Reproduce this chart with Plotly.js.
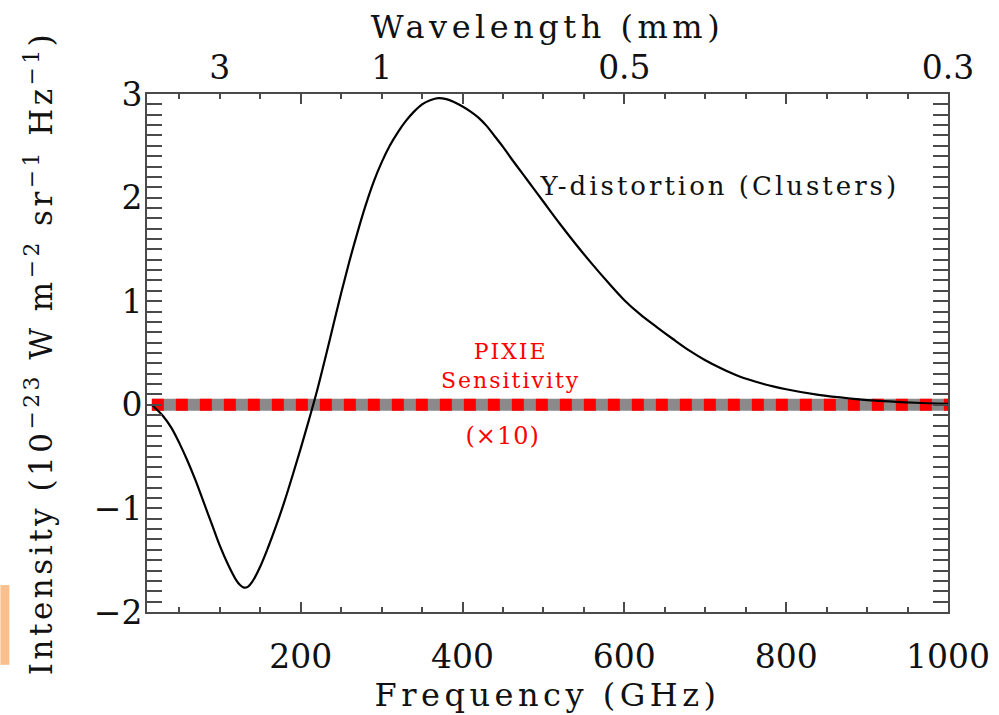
<!DOCTYPE html>
<html>
<head>
<meta charset="utf-8">
<script src="https://cdn.plot.ly/plotly-3.0.1.min.js"></script>
<style>
  html, body { margin: 0; padding: 0; background: #fff; }
  #chart { width: 999px; height: 715px; }
  .xtitle, .x2title { letter-spacing: 4.5px; }
  .ytitle { letter-spacing: 3.5px; }
  g.annotation[data-index="0"] text { letter-spacing: 3px; }
  g.annotation[data-index="1"] text { letter-spacing: 2px; }
  g.annotation[data-index="2"] text { letter-spacing: 1px; }
</style>
</head>
<body>
<div id="chart"></div>
<script>
// Y-distortion curve (frequency in GHz, intensity in 1e-23 W m^-2 sr^-1 Hz^-1)
const freqGHz = [16, 20, 30, 40, 50, 60, 70, 80, 90, 100, 110, 120, 125, 130, 135, 140, 150, 160, 170, 180, 190,
  200, 210, 220, 230, 240, 250, 260, 270, 280, 290, 300, 310, 320, 330, 340, 350, 360, 370, 380, 390,
  400, 410, 420, 430, 440, 450, 460, 480, 500, 520, 540, 560, 580, 600, 620, 640, 660, 680, 700, 720, 740, 770,
  800, 840, 880, 920, 960, 1000];
const yDistortion = [0, -0.03, -0.11, -0.22, -0.37, -0.54, -0.73, -0.94, -1.15, -1.36, -1.54, -1.69, -1.74, -1.765, -1.755, -1.71, -1.56, -1.37, -1.16, -0.93, -0.68,
  -0.42, -0.15, 0.13, 0.44, 0.76, 1.08, 1.38, 1.66, 1.92, 2.15, 2.34, 2.50, 2.63, 2.74, 2.83, 2.90, 2.94, 2.96, 2.95, 2.92,
  2.88, 2.83, 2.77, 2.69, 2.59, 2.49, 2.38, 2.17, 1.96, 1.75, 1.55, 1.36, 1.18, 1.01, 0.87, 0.75, 0.635, 0.525, 0.43, 0.35, 0.28, 0.205,
  0.15, 0.095, 0.06, 0.035, 0.02, 0.01];

// PIXIE sensitivity (x10) line
const pixieFreq = [16, 1000];
const pixieValue = [0, 0];

// Axis ticks
const freqTicks = [200, 400, 600, 800, 1000];
const intensityTicks = [-2, -1, 0, 1, 2, 3];
const wavelengthTickFreq = [100, 300, 600, 1000];
const wavelengthTickText = ['3', '1', '0.5', '0.3'];

const FONT = 'DejaVu Serif';
const AX = '#4a4a4a';

const traces = [
  {
    x: pixieFreq, y: pixieValue,
    mode: 'lines', line: { color: '#8a8a8a', width: 12 },
    hoverinfo: 'skip', showlegend: false
  },
  {
    x: pixieFreq, y: pixieValue,
    mode: 'lines', line: { color: '#ff0000', width: 12, dash: '12px,12px' },
    hoverinfo: 'skip', showlegend: false
  },
  {
    x: freqGHz, y: yDistortion,
    mode: 'lines', line: { color: '#000', width: 2.2, shape: 'spline', smoothing: 1 },
    showlegend: false
  },
  {
    // carries the top (wavelength) axis
    x: wavelengthTickFreq, y: wavelengthTickFreq.map(() => null), xaxis: 'x2', yaxis: 'y',
    mode: 'lines', hoverinfo: 'skip', showlegend: false
  }
];

const layout = {
  width: 999, height: 715,
  margin: { l: 147, r: 51, t: 94, b: 103, pad: 0 },
  paper_bgcolor: '#fff', plot_bgcolor: '#fff',
  font: { family: FONT, color: '#111' },
  showlegend: false,
  xaxis: {
    range: [10, 1000], tickvals: freqTicks,
    ticks: 'inside', ticklen: 10, tickwidth: 2, tickcolor: AX,
    minor: { dtick: 50, tick0: 0, ticks: 'inside', ticklen: 5, tickwidth: 2, tickcolor: AX, showgrid: false },
    showline: true, linecolor: AX, linewidth: 2, mirror: 'allticks',
    showgrid: false, zeroline: false,
    tickfont: { family: FONT, size: 33, color: '#111' },
    ticklabelstandoff: 14,
    title: { text: 'Frequency (GHz)', font: { family: FONT, size: 32, color: '#111' }, standoff: 0 }
  },
  xaxis2: {
    overlaying: 'x', side: 'top', anchor: 'y',
    range: [10, 1000], tickvals: wavelengthTickFreq, ticktext: wavelengthTickText,
    ticks: '', showline: false, showgrid: false, zeroline: false,
    tickfont: { family: FONT, size: 33, color: '#111' },
    ticklabelstandoff: 7,
    title: { text: 'Wavelength (mm)', font: { family: FONT, size: 32, color: '#111' }, standoff: 0 }
  },
  yaxis: {
    range: [-2, 3], tickvals: intensityTicks,
    ticks: 'inside', ticklen: 15, tickwidth: 2, tickcolor: AX,
    minor: { dtick: 0.1, tick0: 0, ticks: 'inside', ticklen: 8, tickwidth: 2, tickcolor: AX, showgrid: false },
    showline: true, linecolor: AX, linewidth: 2, mirror: 'allticks',
    showgrid: false, zeroline: false,
    tickfont: { family: FONT, size: 33, color: '#111' },
    ticklabelstandoff: -4,
    title: { text: 'Intensity (10<sup>−23</sup> W m<sup>−2</sup> sr<sup>−1</sup> Hz<sup>−1</sup>)', font: { family: FONT, size: 31, color: '#111' }, standoff: 32 }
  },
  annotations: [
    { x: 718, y: 2.11, xref: 'x', yref: 'y', text: 'Y-distortion (Clusters)', showarrow: false,
      font: { family: FONT, size: 26, color: '#111' }, xanchor: 'center', yanchor: 'middle' },
    { x: 460, y: 0.375, xref: 'x', yref: 'y', text: 'PIXIE<br>Sensitivity', showarrow: false, align: 'center',
      font: { family: FONT, size: 22, color: '#ff0000' }, xanchor: 'center', yanchor: 'middle' },
    { x: 449, y: -0.30, xref: 'x', yref: 'y', text: '(×10)', showarrow: false,
      font: { family: FONT, size: 24, color: '#ff0000' }, xanchor: 'center', yanchor: 'middle' }
  ],
  shapes: [
    { type: 'rect', xref: 'paper', yref: 'paper', x0: -0.183, x1: -0.1718, y0: -0.102, y1: 0.052,
      fillcolor: '#f9c08e', line: { width: 0 }, layer: 'above' }
  ]
};

Plotly.newPlot('chart', traces, layout, { staticPlot: true, displayModeBar: false });
</script>
</body>
</html>
